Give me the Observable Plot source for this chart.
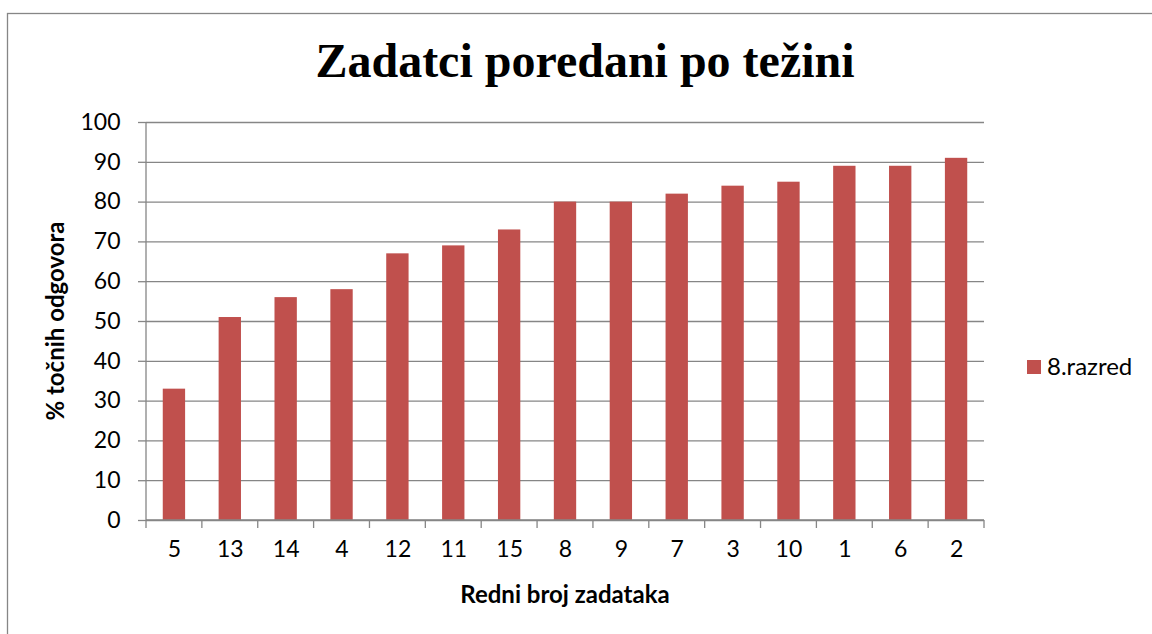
<!DOCTYPE html>
<html>
<head>
<meta charset="utf-8">
<script src="https://cdn.jsdelivr.net/npm/d3@7"></script>
<script src="https://cdn.jsdelivr.net/npm/@observablehq/plot@0.6"></script>
<style>
  html, body { margin: 0; padding: 0; background: #fff; }
  #chart svg { display: block; }
</style>
</head>
<body>
<div id="chart"></div>
<script>
const title = "Zadatci poredani po težini";
const xTitle = "Redni broj zadataka";
const yTitle = "% točnih odgovora";
const seriesName = "8.razred";
const tasks = ["5", "13", "14", "4", "12", "11", "15", "8", "9", "7", "3", "10", "1", "6", "2"];
const pct = [33, 51, 56, 58, 67, 69, 73, 80, 80, 82, 84, 85, 89, 89, 91];
const yTicks = [0, 10, 20, 30, 40, 50, 60, 70, 80, 90, 100];

const barColor = "#C0504D";
const axisGray = "#868686";
const font = "Lato, 'Open Sans', sans-serif";

const data = tasks.map((t, i) => ({task: t, value: pct[i]}));

const plot = Plot.plot({
  width: 1152,
  height: 634,
  marginLeft: 146,
  marginRight: 168,
  marginTop: 122,
  marginBottom: 114,
  style: {fontFamily: font, fontSize: "23px", color: "#000", background: "#fff"},
  x: {domain: tasks, paddingInner: 0.6, paddingOuter: 0.3, round: false, label: null},
  y: {domain: [0, 100], label: null},
  marks: [
    Plot.gridY(yTicks, {stroke: axisGray, strokeOpacity: 1, strokeWidth: 1.3}),
    Plot.barY(data, {x: "task", y: "value", fill: barColor}),
    Plot.axisY(yTicks, {tickSize: 8, tickPadding: 18, stroke: axisGray, strokeOpacity: 1, strokeWidth: 1.3, fill: "#000", fontSize: 23, label: null}),
    Plot.axisX({tickSize: 0, tickPadding: 20, fill: "#000", fontSize: 23, label: null})
  ]
});

document.getElementById("chart").appendChild(plot);

const svg = d3.select(plot);
const xs = plot.scale("x");
const ys = plot.scale("y");
const [x0, x1] = xs.range;
const y0 = ys.apply(0);
const y100 = ys.apply(100);
const step = (x1 - x0) / tasks.length;

const deco = svg.append("g").attr("text-anchor", "start");
// outer chart border
deco.append("rect")
  .attr("x", 7.5).attr("y", 13.5).attr("width", 1200).attr("height", 700)
  .attr("fill", "none").attr("stroke", axisGray).attr("stroke-width", 1.3);
// axis lines
deco.append("line").attr("x1", x0).attr("x2", x0).attr("y1", y100).attr("y2", y0)
  .attr("stroke", axisGray).attr("stroke-width", 1.3);
deco.append("line").attr("x1", x0).attr("x2", x1).attr("y1", y0).attr("y2", y0)
  .attr("stroke", axisGray).attr("stroke-width", 1.3);
// category boundary ticks
for (let i = 0; i <= tasks.length; i++) {
  const xx = x0 + i * step;
  deco.append("line").attr("x1", xx).attr("x2", xx).attr("y1", y0).attr("y2", y0 + 8)
    .attr("stroke", axisGray).attr("stroke-width", 1.3);
}
// title
deco.append("text").text(title)
  .attr("x", 585).attr("y", 77).attr("text-anchor", "middle")
  .attr("font-family", "'Liberation Serif', 'Times New Roman', serif")
  .attr("font-weight", "bold").attr("font-size", 48).attr("fill", "#000");
// x title
deco.append("text").text(xTitle)
  .attr("x", (x0 + x1) / 2).attr("y", 603).attr("text-anchor", "middle")
  .attr("font-family", font).attr("font-weight", "bold").attr("font-size", 24).attr("fill", "#000");
// y title
deco.append("text").text(yTitle)
  .attr("transform", `translate(64,${(y0 + y100) / 2}) rotate(-90)`)
  .attr("text-anchor", "middle")
  .attr("font-family", font).attr("font-weight", "bold").attr("font-size", 24).attr("fill", "#000");
// legend
deco.append("rect").attr("x", 1027).attr("y", 360).attr("width", 14).attr("height", 14).attr("fill", barColor);
deco.append("text").text(seriesName)
  .attr("x", 1047).attr("y", 375).attr("text-anchor", "start")
  .attr("font-family", font).attr("font-size", 24).attr("fill", "#000");
</script>
</body>
</html>
